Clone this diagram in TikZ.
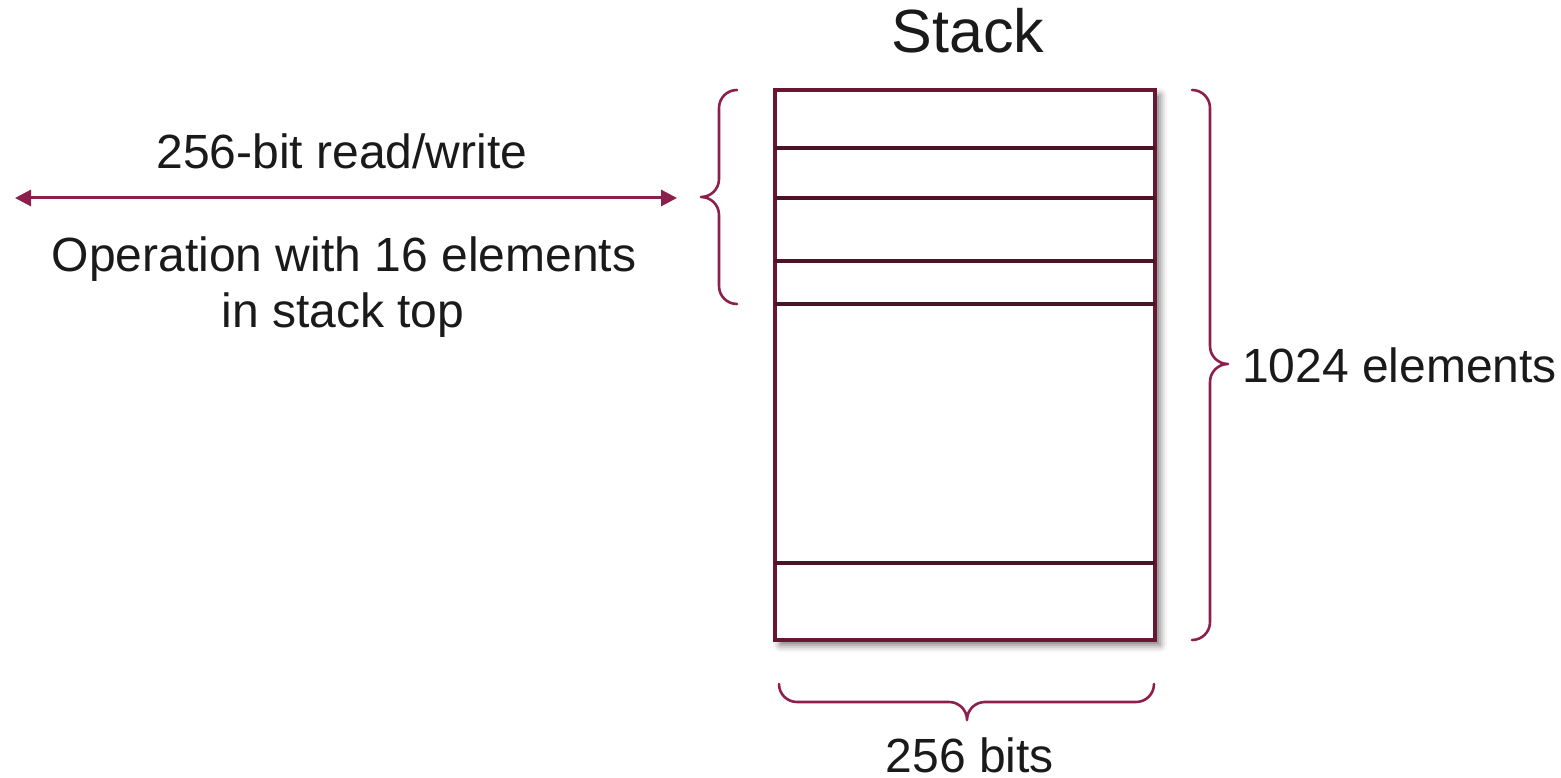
\documentclass[tikz,border=0pt]{standalone}
\usepackage{fontspec}
\setmainfont{Liberation Sans}
\usetikzlibrary{arrows.meta,shadows.blur}
\definecolor{braceclr}{HTML}{8C1F4C}
\definecolor{boxclr}{HTML}{6A1532}
\definecolor{rowclr}{HTML}{4A1326}
\definecolor{txtclr}{HTML}{1A1A1A}
\tikzset{
  lbl/.style={text=txtclr, inner sep=0pt, font=\fontsize{48}{57}\selectfont},
  ttl/.style={text=txtclr, inner sep=0pt, font=\fontsize{61}{72}\selectfont},
  bracepath/.style={draw=braceclr, line width=2.6pt, line cap=round, line join=round},
  stackbox/.style={draw=boxclr, fill=white, line width=4pt, inner sep=0pt,
    minimum width=380pt, minimum height=550pt,
    blur shadow={shadow xshift=5pt, shadow yshift=-5pt, shadow blur radius=7pt, shadow opacity=55}},
  rowline/.style={draw=rowclr, line width=3.2pt},
  rwarrow/.style={draw=braceclr, line width=3pt,
    {Triangle[length=16pt,width=16pt]}-{Triangle[length=16pt,width=16pt]}}
}
\begin{document}
\begin{tikzpicture}[x=1pt,y=-1pt]
\useasboundingbox (0,0) rectangle (1561,778);

% the stack itself
\node[stackbox] (stack) at (965,365) {};
\foreach \ry in {148,198,261,304,563}
  \draw[rowline] ([xshift=2pt]stack.west |- 0,\ry) -- ([xshift=-2pt]stack.east |- 0,\ry);

% titles and labels
\node[ttl, anchor=base] (title) at (968,53) {Stack};
\node[lbl, anchor=base] (rw) at (342,169) {256-bit read/write};
\node[lbl, anchor=base] (op1) at (344,272) {Operation with 16 elements};
\node[lbl, anchor=base] (op2) at (343,327) {in stack top};
\node[lbl, anchor=base west] (depth) at (1242,382) {1024 elements};
\node[lbl, anchor=base] (width) at (970,772) {256 bits};

% read/write arrow
\coordinate (arrL) at (15,198);
\coordinate (arrR) at (677,198);
\draw[rwarrow] (arrL) -- (arrR);

% brace over the 16 top elements
\draw[bracepath] (737,90) .. controls (727,90) and (719,98) .. (719,108)
  -- (719,179) .. controls (719,189) and (711,197) .. (701,197)
  .. controls (711,197) and (719,205) .. (719,215)
  -- (719,286) .. controls (719,296) and (727,304) .. (737,304);

% brace over the whole stack depth
\draw[bracepath] (1192,90) .. controls (1202,90) and (1210,98) .. (1210,108)
  -- (1210,346) .. controls (1210,356) and (1218,364) .. (1228,364)
  .. controls (1218,364) and (1210,372) .. (1210,382)
  -- (1210,622) .. controls (1210,632) and (1202,640) .. (1192,640);

% brace under the stack width
\draw[bracepath] (779,684) .. controls (779,694) and (787,702) .. (797,702)
  -- (949,702) .. controls (959,702) and (967,710) .. (967,720)
  .. controls (967,710) and (975,702) .. (985,702)
  -- (1136,702) .. controls (1146,702) and (1154,694) .. (1154,684);
\end{tikzpicture}
\end{document}
